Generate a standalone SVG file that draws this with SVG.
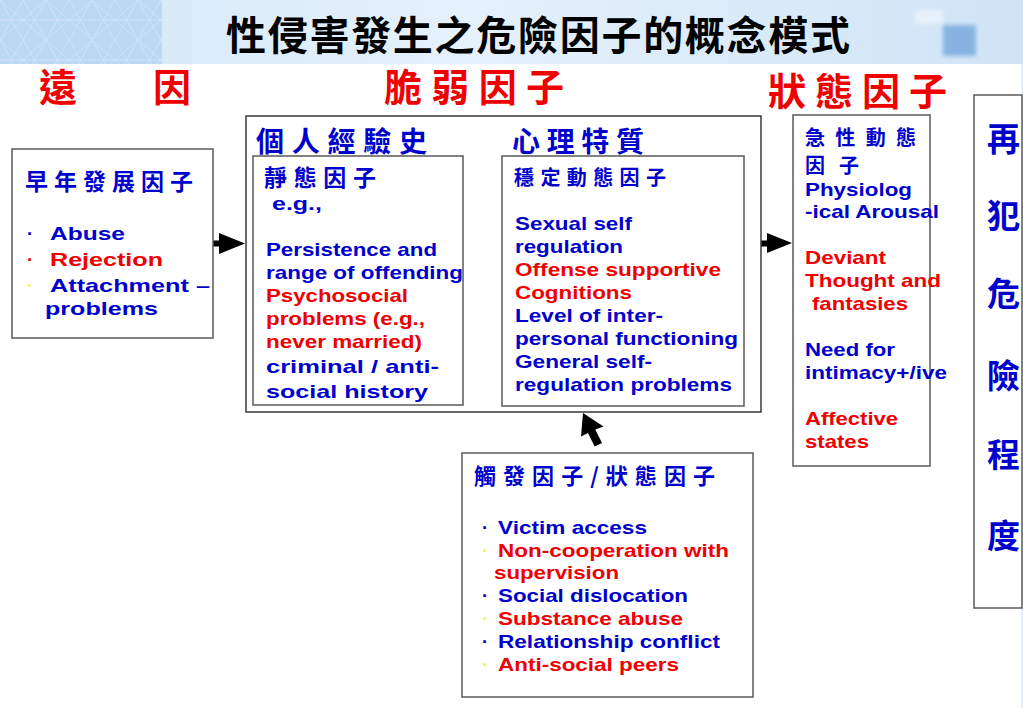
<svg xmlns="http://www.w3.org/2000/svg" width="1023" height="708" viewBox="0 0 1023 708">
<style>
.cjk{font-family:"Noto Sans CJK TC","Noto Sans CJK SC",sans-serif;font-weight:700}
.en{font-family:"Liberation Sans",Arial,sans-serif;font-weight:700;font-size:18.5px}
.b{fill:#0000CC}
.r{fill:#F00000}
.y{fill:#F4F060}
.box{fill:#FFFFFF;stroke:#5A5A5A;stroke-width:1.5}
.arrow{fill:#000000}
</style>
<defs>
<linearGradient id="band" x1="0" y1="0" x2="1" y2="0">
<stop offset="0" stop-color="#D2E7F8"/>
<stop offset="0.45" stop-color="#E5F1FB"/>
<stop offset="1" stop-color="#D0E4F6"/>
</linearGradient>
<pattern id="asanoha" x="0" y="0" width="46" height="40" patternUnits="userSpaceOnUse">
<rect width="46" height="40" fill="#BCD9F3"/>
<path d="M0 0 L23 40 M46 0 L23 40 M0 20 L46 20 M23 0 L0 40 M23 0 L46 40 M0 0 L46 40 M46 0 L0 40" stroke="#CFE4F7" stroke-width="1" fill="none"/>
</pattern>
<filter id="blur" x="-30%" y="-30%" width="160%" height="160%"><feGaussianBlur stdDeviation="2"/></filter>
<clipPath id="clipD"><rect x="974" y="95" width="47.5" height="514"/></clipPath>
</defs>

<g id="header">
<rect x="0" y="0" width="1023" height="64" fill="url(#band)"/>
<rect x="0" y="0" width="162" height="64" fill="url(#asanoha)"/>
<rect x="915" y="10" width="28" height="14" fill="#E6F1FB" filter="url(#blur)"/>
<rect x="943" y="25" width="33" height="31" fill="#86B3E2" filter="url(#blur)"/>
<rect x="1021" y="64" width="2" height="644" fill="#E3EEF9"/>
<text class="cjk" x="226" y="50" font-size="40" textLength="624" lengthAdjust="spacing" fill="#000000">性侵害發生之危險因子的概念模式</text>
</g>

<g id="stage-labels">
<text class="cjk r" x="39" y="101" font-size="38">遠</text>
<text class="cjk r" x="153" y="101" font-size="38">因</text>
<text class="cjk r" x="384" y="101" font-size="38" textLength="180" lengthAdjust="spacing">脆弱因子</text>
<text class="cjk r" x="768" y="105" font-size="38" textLength="179" lengthAdjust="spacing">狀態因子</text>
</g>

<g id="connectors">
<polygon class="arrow" points="213,240.5 219,240.5 219,233 245,243.5 219,254 219,246.5 213,246.5"/>
<polygon class="arrow" points="761,240.5 767,240.5 767,233 792,243 767,253 767,246.5 761,246.5"/>
<polygon class="arrow" points="583,413 581,436.5 588,433 594.7,446.5 602,443 595.3,429.5 603.5,426.5"/>
</g>

<g id="node-early">
<rect class="box" x="12" y="149" width="201" height="189"/>
<text class="cjk b" x="25" y="190" font-size="23" textLength="168" lengthAdjust="spacing">早年發展因子</text>
<text class="en b" x="27" y="240" font-size="19.5">·</text>
<text class="en b" x="50" y="240" font-size="19.5" textLength="75" lengthAdjust="spacingAndGlyphs">Abuse</text>
<text class="en r" x="27" y="266" font-size="19.5">·</text>
<text class="en r" x="50" y="266" font-size="19.5" textLength="113" lengthAdjust="spacingAndGlyphs">Rejection</text>
<text class="en y" x="27" y="292" font-size="19.5">·</text>
<text class="en b" x="50" y="292" font-size="19.5" textLength="160" lengthAdjust="spacingAndGlyphs">Attachment –</text>
<text class="en b" x="45" y="315" font-size="19.5" textLength="113" lengthAdjust="spacingAndGlyphs">problems</text>
</g>

<g id="node-vulnerability">
<rect x="246" y="116" width="515" height="296" fill="#FFFFFF" stroke="#3A3A3A" stroke-width="1.5"/>
<text class="cjk b" x="256" y="152" font-size="28" textLength="171" lengthAdjust="spacing">個人經驗史</text>
<text class="cjk b" x="512" y="152" font-size="28" textLength="132" lengthAdjust="spacing">心理特質</text>
</g>

<g id="node-static">
<rect class="box" x="253" y="156" width="210" height="249"/>
<text class="cjk b" x="264" y="186" font-size="23" textLength="112" lengthAdjust="spacing">靜態因子</text>
<text class="en b" x="272" y="210" font-size="19" textLength="50" lengthAdjust="spacingAndGlyphs">e.g.,</text>
<text class="en b" x="266" y="256" textLength="171" lengthAdjust="spacingAndGlyphs">Persistence and</text>
<text class="en b" x="266" y="279" textLength="197" lengthAdjust="spacingAndGlyphs">range of offending</text>
<text class="en r" x="266" y="302" textLength="142" lengthAdjust="spacingAndGlyphs">Psychosocial</text>
<text class="en r" x="266" y="325" textLength="159" lengthAdjust="spacingAndGlyphs">problems (e.g.,</text>
<text class="en r" x="266" y="348" textLength="156" lengthAdjust="spacingAndGlyphs">never married)</text>
<text class="en b" x="266" y="373" font-size="21" textLength="173" lengthAdjust="spacingAndGlyphs">criminal / anti-</text>
<text class="en b" x="266" y="398" font-size="21" textLength="162" lengthAdjust="spacingAndGlyphs">social history</text>
</g>

<g id="node-stable">
<rect class="box" x="502" y="156" width="242" height="250"/>
<text class="cjk b" x="514" y="185" font-size="20" textLength="152" lengthAdjust="spacing">穩定動態因子</text>
<text class="en b" x="515" y="230" textLength="117" lengthAdjust="spacingAndGlyphs">Sexual self</text>
<text class="en b" x="515" y="253" textLength="108" lengthAdjust="spacingAndGlyphs">regulation</text>
<text class="en r" x="515" y="276" textLength="206" lengthAdjust="spacingAndGlyphs">Offense supportive</text>
<text class="en r" x="515" y="299" textLength="117" lengthAdjust="spacingAndGlyphs">Cognitions</text>
<text class="en b" x="515" y="322" textLength="148" lengthAdjust="spacingAndGlyphs">Level of inter-</text>
<text class="en b" x="515" y="345" textLength="223" lengthAdjust="spacingAndGlyphs">personal functioning</text>
<text class="en b" x="515" y="368" textLength="137" lengthAdjust="spacingAndGlyphs">General self-</text>
<text class="en b" x="515" y="391" textLength="217" lengthAdjust="spacingAndGlyphs">regulation problems</text>
</g>

<g id="node-acute">
<rect class="box" x="793" y="115" width="137" height="351"/>
<text class="cjk b" x="805" y="145" font-size="20" textLength="111" lengthAdjust="spacing">急性動態</text>
<text class="cjk b" x="805" y="173" font-size="20" textLength="54" lengthAdjust="spacing">因子</text>
<text class="en b" x="805" y="196" textLength="107" lengthAdjust="spacingAndGlyphs">Physiolog</text>
<text class="en b" x="805" y="218" textLength="134" lengthAdjust="spacingAndGlyphs">-ical Arousal</text>
<text class="en r" x="805" y="264" textLength="81" lengthAdjust="spacingAndGlyphs">Deviant</text>
<text class="en r" x="805" y="287" textLength="136" lengthAdjust="spacingAndGlyphs">Thought and</text>
<text class="en r" x="812" y="310" textLength="96" lengthAdjust="spacingAndGlyphs">fantasies</text>
<text class="en b" x="805" y="356" textLength="90" lengthAdjust="spacingAndGlyphs">Need for</text>
<text class="en b" x="805" y="379" textLength="142" lengthAdjust="spacingAndGlyphs">intimacy+/ive</text>
<text class="en r" x="805" y="425" textLength="93" lengthAdjust="spacingAndGlyphs">Affective</text>
<text class="en r" x="805" y="448" textLength="64" lengthAdjust="spacingAndGlyphs">states</text>
</g>

<g id="node-risk">
<rect class="box" x="974" y="95" width="48" height="513"/>
<g clip-path="url(#clipD)" class="cjk b" font-size="33">
<text x="987" y="151">再</text>
<text x="987" y="228">犯</text>
<text x="987" y="306">危</text>
<text x="987" y="388">險</text>
<text x="987" y="467">程</text>
<text x="987" y="548">度</text>
</g>
</g>

<g id="node-trigger">
<rect class="box" x="462" y="453" width="291" height="244"/>
<text class="cjk b" x="474" y="484" font-size="22" textLength="241" lengthAdjust="spacing">觸發因子/狀態因子</text>
<text class="en b" x="482" y="534">·</text>
<text class="en b" x="498" y="534" textLength="149" lengthAdjust="spacingAndGlyphs">Victim access</text>
<text class="en y" x="482" y="557">·</text>
<text class="en r" x="498" y="557" textLength="231" lengthAdjust="spacingAndGlyphs">Non-cooperation with</text>
<text class="en r" x="494" y="579" textLength="125" lengthAdjust="spacingAndGlyphs">supervision</text>
<text class="en b" x="482" y="602">·</text>
<text class="en b" x="498" y="602" textLength="190" lengthAdjust="spacingAndGlyphs">Social dislocation</text>
<text class="en y" x="482" y="625">·</text>
<text class="en r" x="498" y="625" textLength="185" lengthAdjust="spacingAndGlyphs">Substance abuse</text>
<text class="en b" x="482" y="648">·</text>
<text class="en b" x="498" y="648" textLength="222" lengthAdjust="spacingAndGlyphs">Relationship conflict</text>
<text class="en y" x="482" y="671">·</text>
<text class="en r" x="498" y="671" textLength="181" lengthAdjust="spacingAndGlyphs">Anti-social peers</text>
</g>
</svg>
